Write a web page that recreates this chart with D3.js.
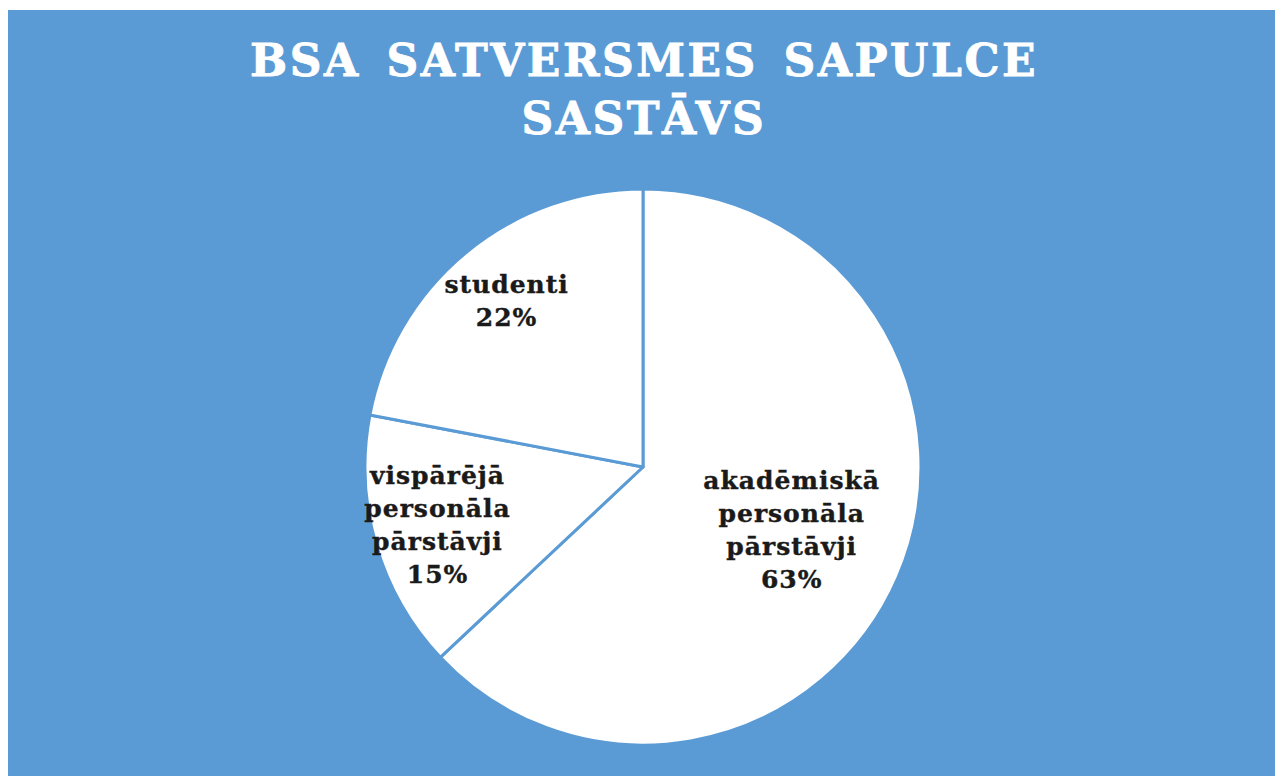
<!DOCTYPE html>
<html>
<head>
<meta charset="utf-8">
<script src="https://cdn.jsdelivr.net/npm/d3@7"></script>
<style>
  body { margin: 0; background: #fff; }
</style>
</head>
<body>
<div id="chart"></div>
<script>
// slice data, clockwise from 12 o'clock
const labels = [["akadēmiskā", "personāla", "pārstāvji"], ["vispārējā", "personāla", "pārstāvji"], ["studenti"]];
const values = [63, 15, 22];
const titleLines = ["BSA SATVERSMES SAPULCE", "SASTĀVS"];

const width = 1280, height = 776;
const cx = 643, cy = 467, radius = 278;
const blue = "#5b9bd5";
const fontFam = "'DejaVu Serif', serif";
const lineH = 33;

const svg = d3.select("#chart").append("svg")
  .attr("width", width)
  .attr("height", height);

svg.append("rect")
  .attr("x", 8).attr("y", 10)
  .attr("width", 1267).attr("height", height - 10)
  .attr("fill", blue);

svg.append("g")
  .selectAll("text")
  .data(titleLines)
  .join("text")
  .attr("x", 644)
  .attr("y", (d, i) => 76 + i * 58)
  .attr("text-anchor", "middle")
  .attr("fill", "#fff")
  .attr("stroke", "#fff")
  .attr("stroke-width", 0.8)
  .style("font-family", fontFam)
  .style("font-weight", "bold")
  .style("font-size", "44px")
  .style("letter-spacing", "2.5px")
  .style("word-spacing", "8px")
  .text(d => d);

const slices = values.map((v, i) => ({ label: labels[i], value: v }));

const pie = d3.pie().sort(null).value(d => d.value);
const arc = d3.arc().innerRadius(0).outerRadius(radius);

const g = svg.append("g").attr("transform", `translate(${cx},${cy})`);

g.selectAll("path")
  .data(pie(slices))
  .join("path")
  .attr("d", arc)
  .attr("fill", "#fff")
  .attr("stroke", blue)
  .attr("stroke-width", 3)
  .attr("stroke-linejoin", "round");

// big slice label sits nearer to the middle, small ones further out
const lbl = g.append("g")
  .selectAll("text")
  .data(pie(slices))
  .join("text")
  .attr("text-anchor", "middle")
  .attr("fill", "#1a1a1a")
  .attr("stroke", "#1a1a1a")
  .attr("stroke-width", 0.4)
  .style("font-family", fontFam)
  .style("font-weight", "bold")
  .style("font-size", "25px")
  .style("letter-spacing", "1px")
  .attr("transform", d => {
    const a = (d.startAngle + d.endAngle) / 2;
    const r = d.data.value > 50 ? 162 : 214;
    const lines = d.data.label.length + 1;
    const y0 = -r * Math.cos(a) - ((lines - 1) * lineH) / 2 + 7;
    return `translate(${r * Math.sin(a)},${y0})`;
  });

lbl.each(function (d) {
  const t = d3.select(this);
  d.data.label.concat([d.data.value + "%"]).forEach((line, i) => {
    t.append("tspan").attr("x", 0).attr("y", i * lineH).text(line);
  });
});
</script>
</body>
</html>
